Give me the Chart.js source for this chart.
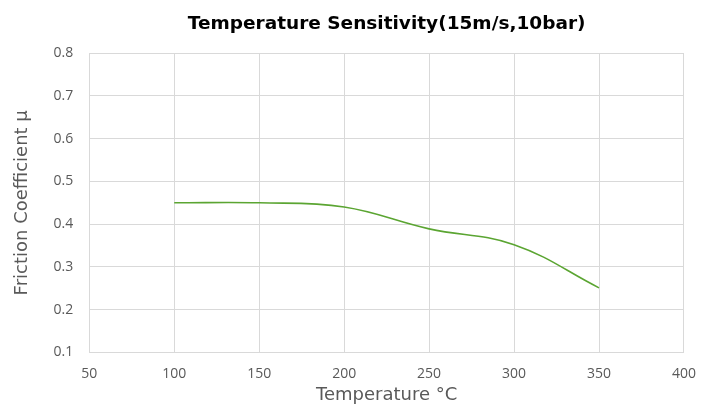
<!DOCTYPE html>
<html>
<head>
<meta charset="utf-8">
<script src="https://cdn.jsdelivr.net/npm/chart.js@4"></script>
<style>
  html, body { margin: 0; padding: 0; background: #fff; }
</style>
</head>
<body>
<canvas id="chart" width="711" height="410"></canvas>
<script>
const temps = [100, 150, 200, 250, 300, 350];
const friction = [0.45, 0.45, 0.44, 0.389, 0.352, 0.251];
const xTicks = [50, 100, 150, 200, 250, 300, 350, 400];
const yTicks = [0.1, 0.2, 0.3, 0.4, 0.5, 0.6, 0.7, 0.8];

const points = temps.map((t, i) => ({ x: t, y: friction[i] }));
const tickFont = '"Open Sans", "Liberation Sans", sans-serif';
const titleFont = '"DejaVu Sans", sans-serif';

new Chart(document.getElementById('chart'), {
    type: 'line',
    data: {
        datasets: [{
            data: points,
            borderColor: '#5ba532',
            borderWidth: 1.6,
            pointRadius: 0,
            tension: 0.4,
            fill: false
        }]
    },
    options: {
        responsive: false,
        animation: false,
        layout: { padding: { left: 8, right: 20, top: 0, bottom: 0 } },
        plugins: {
            legend: { display: false },
            tooltip: { enabled: false },
            title: {
                display: true,
                fullSize: false,
                text: 'Temperature Sensitivity(15m/s,10bar)',
                color: '#000',
                font: { family: titleFont, size: 18.5, weight: 'bold' },
                padding: { top: 13, bottom: 18 }
            }
        },
        scales: {
            x: {
                type: 'linear',
                min: xTicks[0],
                max: xTicks[xTicks.length - 1],
                afterBuildTicks: (axis) => { axis.ticks = xTicks.map(v => ({ value: v })); },
                grid: { color: '#d9d9d9', drawTicks: false },
                border: { color: '#d9d9d9' },
                ticks: { color: '#595959', font: { family: tickFont, size: 14, lineHeight: 1 }, padding: 15, maxRotation: 0 },
                title: {
                    display: true,
                    text: 'Temperature °C',
                    color: '#595959',
                    font: { family: titleFont, size: 18 },
                    padding: { top: -12, bottom: 4 }
                }
            },
            y: {
                min: yTicks[0],
                max: yTicks[yTicks.length - 1],
                afterBuildTicks: (axis) => { axis.ticks = yTicks.map(v => ({ value: v })); },
                grid: { color: '#d9d9d9', drawTicks: false },
                border: { color: '#d9d9d9' },
                ticks: {
                    color: '#595959',
                    font: { family: tickFont, size: 14 },
                    padding: 16,
                    callback: (v) => Number(v).toFixed(1)
                },
                title: {
                    display: true,
                    text: 'Friction Coefficient μ',
                    color: '#595959',
                    font: { family: titleFont, size: 18 },
                    padding: { bottom: 4 }
                }
            }
        }
    }
});
</script>
</body>
</html>
